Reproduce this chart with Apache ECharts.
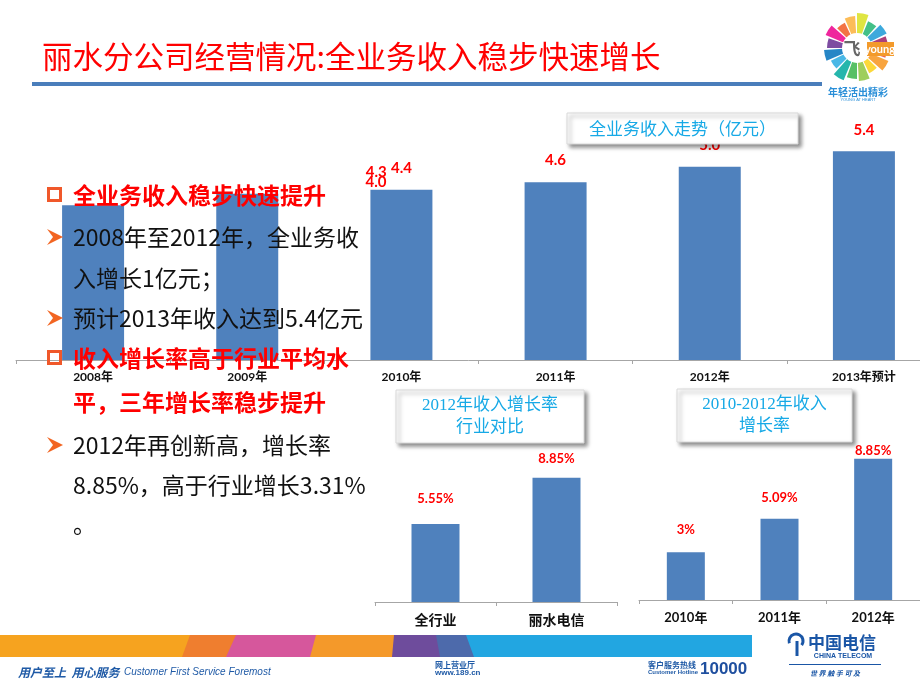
<!DOCTYPE html>
<html><head><meta charset="utf-8">
<script src="https://cdn.jsdelivr.net/npm/echarts@6/dist/echarts.min.js"></script>
<style>html,body{margin:0;padding:0;background:#fff}#c{width:920px;height:690px}</style>
</head><body><div id="c"></div><script>
// ---- data ----
const categories = ['2008年', '2009年', '2010年', '2011年', '2012年', '2013年预计'];
const revenue = [4.0, 4.3, 4.4, 4.6, 5.0, 5.4];
const industryCats = ['全行业', '丽水电信'];
const industryRates = [5.55, 8.85];
const growthYears = ['2010年', '2011年', '2012年'];
const growthRates = [3, 5.09, 8.85];
const pageTitle = '丽水分公司经营情况:全业务收入稳步快速增长';
const box1Title = '全业务收入走势（亿元）';
const box2Title = ['2012年收入增长率', '行业对比'];
const box3Title = ['2010-2012年收入', '增长率'];
const panelTexts = ['全业务收入稳步快速提升', '2008年至2012年，全业务收', '入增长1亿元；', '预计2013年收入达到5.4亿元',
  '收入增长率高于行业平均水', '平，三年增长率稳步提升', '2012年再创新高，增长率', '8.85%，高于行业增长3.31%', '。'];
const panelKinds = ['head', 'bullet', 'cont', 'bullet', 'head', 'headcont', 'bullet', 'cont', 'cont'];

// ---- layout / style ----
const CJK = '"Noto Sans CJK SC", sans-serif';
const NUM = 'Lato, "Noto Sans CJK SC", sans-serif';
const BAR = '#4f81bd';
const RED = '#ff0000';
const BOXBLUE = '#17a9e6';
const panelY = [195, 237, 278, 318, 358, 402, 445, 485, 524];
const topLabelOffsets = [[283, -2], [129, 0], null, null, null, null];

const chart = echarts.init(document.getElementById('c'), null, {renderer: 'canvas'});

const g = [];
// title
g.push({type: 'text', z: 100, style: {text: pageTitle, x: 42, y: 56, font: 'normal 30.5px ' + CJK, fill: RED, verticalAlign: 'middle'}});
g.push({type: 'rect', z: 100, shape: {x: 32, y: 82, width: 790, height: 4}, style: {fill: '#4a7ebb'}});

// logo wheel
const wheelColors = ['#e94b3c', '#f7941d', '#fcd116', '#8dc63f', '#39b54a', '#00a99d', '#29abe2', '#0071bc', '#662d91', '#ec008c', '#f15a24', '#fbb03b', '#d9e021', '#22b573', '#1b9ad6', '#9e1f63'];
const wheelR = [30, 34, 28, 33, 31, 35, 29, 33, 30, 34, 28, 32, 35, 29, 33, 31];
for (let i = 0; i < 16; i++) {
  const a0 = i * Math.PI * 2 / 16, a1 = a0 + Math.PI * 2 / 16 * 0.85;
  g.push({type: 'sector', z: 100, shape: {cx: 857, cy: 48, r0: 14, r: wheelR[i], startAngle: a0, endAngle: a1}, style: {fill: wheelColors[i], opacity: 0.85}});
}
g.push({type: 'circle', z: 101, shape: {cx: 857, cy: 48, r: 15}, style: {fill: '#fff'}});
g.push({type: 'text', z: 102, style: {text: '飞', x: 852, y: 49, font: 'bold 17px ' + CJK, fill: '#666', align: 'center', verticalAlign: 'middle'}});
g.push({type: 'rect', z: 102, shape: {x: 867, y: 42, width: 27, height: 14}, style: {fill: '#f39a2b'}});
g.push({type: 'text', z: 103, style: {text: 'young', x: 880, y: 49, font: 'bold 11px Lato, sans-serif', fill: '#fff', align: 'center', verticalAlign: 'middle'}});
g.push({type: 'text', z: 100, style: {text: '年轻活出精彩', x: 858, y: 92, font: 'bold 10px ' + CJK, fill: '#2a8fd8', align: 'center', verticalAlign: 'middle'}});
g.push({type: 'text', z: 100, style: {text: 'YOUNG AT HEART', x: 858, y: 100, font: '4px sans-serif', fill: '#2a8fd8', align: 'center', verticalAlign: 'middle'}});

// text panel
panelTexts.forEach((t, i) => {
  const y = panelY[i];
  const k = panelKinds[i];
  const head = k === 'head' || k === 'headcont';
  g.push({type: 'text', z: 100, style: {text: t, x: 73, y: y, font: (head ? 'bold ' : 'normal ') + '23px ' + CJK, fill: head ? RED : '#111', verticalAlign: 'middle'}});
  if (k === 'head') {
    g.push({type: 'rect', z: 100, shape: {x: 48.5, y: y - 6.5, width: 12, height: 12}, style: {fill: 'none', stroke: '#f0582a', lineWidth: 3}});
  } else if (k === 'bullet') {
    g.push({type: 'polygon', z: 100, shape: {points: [[47, y - 8], [63, y], [47, y + 8], [53, y]]}, style: {fill: '#f26522'}});
  }
});

// title boxes
function box(x, y, w, h, lines, font) {
  g.push({type: 'rect', z: 100, shape: {x: x, y: y, width: w, height: h}, style: {fill: '#fff', stroke: '#d8d8d8', lineWidth: 1, shadowBlur: 4, shadowOffsetX: 3, shadowOffsetY: 3, shadowColor: 'rgba(0,0,0,0.45)'}});
  const lh = lines.length > 1 ? 22 : 0;
  lines.forEach((t, i) => {
    g.push({type: 'text', z: 101, style: {text: t, x: x + w / 2, y: y + h / 2 + (i - (lines.length - 1) / 2) * lh, font: font, fill: BOXBLUE, align: 'center', verticalAlign: 'middle'}});
  });
}
box(567, 113, 231, 31, [box1Title], 'normal 17px ' + CJK);
box(396, 390, 188, 53, box2Title, 'normal 17px "Liberation Serif", ' + CJK);
box(677, 389, 175, 53, box3Title, 'normal 17px "Liberation Serif", ' + CJK);

// bottom banner
const stripe = [
  [[0, 0], [192, 0], [186, 1], [0, 1], '#f6a31f'],
  [[190, 0], [238, 0], [228, 1], [182, 1], '#ef7e2f'],
  [[236, 0], [318, 0], [312, 1], [226, 1], '#d6579c'],
  [[316, 0], [396, 0], [394, 1], [310, 1], '#f4992a'],
  [[394, 0], [438, 0], [442, 1], [392, 1], '#6e4c9c'],
  [[436, 0], [468, 0], [476, 1], [440, 1], '#4d6aab'],
  [[466, 0], [752, 0], [752, 1], [474, 1], '#22a6e1']
];
stripe.forEach(s => {
  g.push({type: 'polygon', z: 100, shape: {points: s.slice(0, 4).map(p => [p[0], 635 + p[1] * 22])}, style: {fill: s[4]}});
});
g.push({type: 'text', z: 100, style: {text: '用户至上  用心服务', x: 18, y: 672, font: 'italic bold 12px ' + CJK, fill: '#1f5aa6', verticalAlign: 'middle'}});
g.push({type: 'text', z: 100, style: {text: 'Customer First Service Foremost', x: 124, y: 672, font: 'italic 10px "Liberation Sans", sans-serif', fill: '#1f5aa6', verticalAlign: 'middle'}});
g.push({type: 'text', z: 100, style: {text: '网上营业厅', x: 435, y: 665, font: 'bold 8px ' + CJK, fill: '#1f5aa6', verticalAlign: 'middle'}});
g.push({type: 'text', z: 100, style: {text: 'www.189.cn', x: 435, y: 673, font: 'bold 8px "Liberation Sans", sans-serif', fill: '#1f5aa6', verticalAlign: 'middle'}});
g.push({type: 'text', z: 100, style: {text: '客户服务热线', x: 648, y: 665, font: 'bold 8px ' + CJK, fill: '#1f5aa6', verticalAlign: 'middle'}});
g.push({type: 'text', z: 100, style: {text: 'Customer Hotline', x: 648, y: 672, font: 'bold 6px "Liberation Sans", sans-serif', fill: '#1f5aa6', verticalAlign: 'middle'}});
g.push({type: 'text', z: 100, style: {text: '10000', x: 700, y: 669, font: 'bold 17px "Liberation Sans", sans-serif', fill: '#1f4f9f', verticalAlign: 'middle'}});
// china telecom logo
g.push({type: 'arc', z: 100, shape: {cx: 796, cy: 641, r: 7, startAngle: Math.PI * 0.9, endAngle: Math.PI * 2.2}, style: {stroke: '#1a56a6', lineWidth: 3, fill: 'none'}});
g.push({type: 'line', z: 100, shape: {x1: 797, y1: 641, x2: 797, y2: 656}, style: {stroke: '#1a56a6', lineWidth: 3}});
g.push({type: 'text', z: 100, style: {text: '中国电信', x: 808, y: 643, font: 'bold 17px ' + CJK, fill: '#1a56a6', verticalAlign: 'middle'}});
g.push({type: 'text', z: 100, style: {text: 'CHINA TELECOM', x: 843, y: 656, font: 'bold 7px "Liberation Sans", sans-serif', fill: '#1a56a6', align: 'center', verticalAlign: 'middle'}});
g.push({type: 'rect', z: 100, shape: {x: 789, y: 664, width: 92, height: 1}, style: {fill: '#1a56a6'}});
g.push({type: 'text', z: 100, style: {text: '世 界 触 手 可 及', x: 835, y: 673, font: 'italic bold 7px ' + CJK, fill: '#1a56a6', align: 'center', verticalAlign: 'middle'}});

const axisLine = {show: true, lineStyle: {color: '#a6a6a6', width: 1}};
const axisTick = {show: true, length: 4, lineStyle: {color: '#a6a6a6'}};

chart.setOption({
  animation: false,
  grid: [
    {left: 16, width: 925, top: 128, height: 232, outerBoundsMode: 'none', containLabel: false},
    {left: 375, width: 242, top: 461.5, height: 140.5, outerBoundsMode: 'none', containLabel: false},
    {left: 639, width: 281, top: 440.5, height: 159.5, outerBoundsMode: 'none', containLabel: false}
  ],
  xAxis: [
    {gridIndex: 0, type: 'category', data: categories, axisLine: axisLine, axisTick: axisTick,
      axisLabel: {margin: 11, color: '#111', fontSize: 12, fontWeight: 'bold', fontFamily: NUM}},
    {gridIndex: 1, type: 'category', data: industryCats, axisLine: axisLine, axisTick: axisTick,
      axisLabel: {margin: 11, color: '#111', fontSize: 14, fontWeight: 'bold', fontFamily: CJK}},
    {gridIndex: 2, type: 'category', data: growthYears, axisLine: axisLine, axisTick: axisTick,
      axisLabel: {margin: 11, color: '#111', fontSize: 13, fontWeight: 'bold', fontFamily: NUM}}
  ],
  yAxis: [
    {gridIndex: 0, type: 'value', min: 0, max: 6, show: false},
    {gridIndex: 1, type: 'value', min: 0, max: 10, show: false},
    {gridIndex: 2, type: 'value', min: 0, max: 10, show: false}
  ],
  series: [
    {type: 'bar', xAxisIndex: 0, yAxisIndex: 0, barWidth: 62, itemStyle: {color: BAR},
      label: {show: true, position: 'top', distance: 14, color: RED, fontSize: 15, fontWeight: 'bold', fontFamily: NUM,
        formatter: p => p.value.toFixed(1)},
      data: revenue.map((v, i) => topLabelOffsets[i] ? {value: v, label: {offset: topLabelOffsets[i]}} : v)},
    {type: 'bar', xAxisIndex: 1, yAxisIndex: 1, barWidth: 48, itemStyle: {color: BAR},
      label: {show: true, position: 'top', color: RED, fontSize: 13, fontWeight: 'bold', fontFamily: NUM,
        formatter: p => p.value + '%'},
      data: industryRates.map((v, i) => ({value: v, label: {distance: [19, 12][i]}}))},
    {type: 'bar', xAxisIndex: 2, yAxisIndex: 2, barWidth: 38, itemStyle: {color: BAR},
      label: {show: true, position: 'top', color: RED, fontSize: 13, fontWeight: 'bold', fontFamily: NUM,
        formatter: p => p.value + '%'},
      data: growthRates.map((v, i) => ({value: v, label: {distance: [16, 15, 2][i]}}))}
  ],
  graphic: {elements: g}
});
</script></body></html>
